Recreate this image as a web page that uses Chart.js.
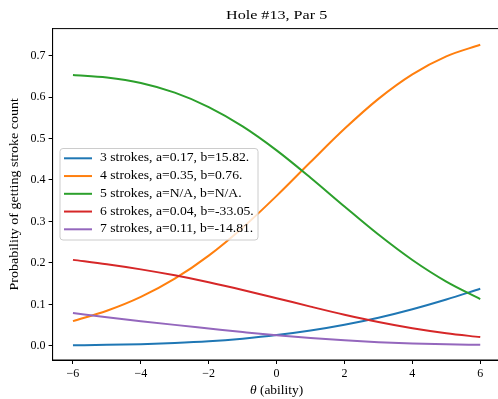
<!DOCTYPE html>
<html>
<head>
<meta charset="utf-8">
<script src="https://cdn.jsdelivr.net/npm/chart.js@4.4.0/dist/chart.umd.min.js"></script>
<style>
    html, body { margin: 0; padding: 0; background: #fff; overflow: hidden; }
    #wrap { width: 504px; height: 399px; }
</style>
</head>
<body>
<div id="wrap"><canvas id="chart" width="504" height="399"></canvas></div>
<script>
// --- Data ---
const thetas = [-6, -5, -4, -3, -2, -1, 0, 1, 2, 3, 4, 5, 6];
const strokes3 = [0.0015, 0.0025, 0.0041, 0.0068, 0.011, 0.0175, 0.026, 0.037, 0.051, 0.068, 0.0885, 0.112, 0.1377];
const strokes4 = [0.0598, 0.0846, 0.118, 0.162, 0.2177, 0.285, 0.3617, 0.4433, 0.5234, 0.5956, 0.6547, 0.698, 0.726];
const strokes5 = [0.653, 0.6469, 0.6337, 0.6105, 0.5759, 0.5293, 0.4715, 0.4055, 0.3361, 0.2684, 0.2071, 0.155, 0.113];
const strokes6 = [0.2074, 0.1968, 0.1845, 0.1701, 0.1535, 0.135, 0.1151, 0.0947, 0.0751, 0.0574, 0.0424, 0.0304, 0.0212];
const strokes7 = [0.0792, 0.0692, 0.0597, 0.0507, 0.0421, 0.0335, 0.0255, 0.019, 0.0135, 0.009, 0.0058, 0.0038, 0.0025];

const seriesLabels = [
    '3 strokes, a=0.17, b=15.82.',
    '4 strokes, a=0.35, b=0.76.',
    '5 strokes, a=N/A, b=N/A.',
    '6 strokes, a=0.04, b=-33.05.',
    '7 strokes, a=0.11, b=-14.81.'
];
const seriesColors = ['#1f77b4', '#ff7f0e', '#2ca02c', '#d62728', '#9467bd'];
const xTicks = [-6, -4, -2, 0, 2, 4, 6];
const yTicks = [0, 0.1, 0.2, 0.3, 0.4, 0.5, 0.6, 0.7];

const titleText = 'Hole #13, Par 5';
const yTitleText = 'Probability of getting stroke count';

const FONT = '"Liberation Serif", "DejaVu Serif", serif';
// Liberation Serif runs narrower than the reference's Computer Modern
const WIDEN = 1.19;

// --- Build datasets ---
const allSeries = [strokes3, strokes4, strokes5, strokes6, strokes7];
const datasets = allSeries.map((vals, i) => ({
    label: seriesLabels[i],
    data: thetas.map((t, j) => ({ x: t, y: vals[j] })),
    borderColor: seriesColors[i],
    backgroundColor: seriesColors[i],
    borderWidth: 2,
    pointRadius: 0,
    fill: false,
    cubicInterpolationMode: 'monotone',
    order: allSeries.length - i
}));

function fmtMinus(v) {
    return v < 0 ? '\u2212' + Math.abs(v) : String(v);
}

// draw text stretched horizontally by WIDEN, anchored at x
function wideText(ctx, text, x, y, align, scale) {
    const s = scale || WIDEN;
    const w = ctx.measureText(text).width * s;
    let left = x;
    if (align === 'center') left = x - w / 2;
    if (align === 'right') left = x - w;
    ctx.save();
    ctx.translate(left, y);
    ctx.scale(s, 1);
    ctx.textAlign = 'left';
    ctx.fillText(text, 0, 0);
    ctx.restore();
    return w;
}

// --- Plugins: frame, titles, legend box ---
const decorations = {
    id: 'decorations',
    afterDraw(chart) {
        const ctx = chart.ctx;
        const a = chart.chartArea;
        ctx.save();

        // axes frame (top + right spines)
        ctx.strokeStyle = '#000';
        ctx.lineWidth = 1;
        ctx.strokeRect(a.left, a.top, a.right - a.left, a.bottom - a.top);

        ctx.fillStyle = '#000';
        ctx.textBaseline = 'middle';

        // title
        ctx.font = '13px ' + FONT;
        wideText(ctx, titleText, (a.left + a.right) / 2, 15.5, 'center', 1.24);

        // y title
        ctx.font = '11.5px ' + FONT;
        ctx.save();
        ctx.translate(15, (a.top + a.bottom) / 2);
        ctx.rotate(-Math.PI / 2);
        wideText(ctx, yTitleText, 0, 0, 'center', 1.22);
        ctx.restore();

        // x title with italic theta
        const rest = ' (ability)';
        ctx.font = 'italic 11.5px ' + FONT;
        const wTheta = ctx.measureText('\u03b8').width * 1.17;
        ctx.font = '11.5px ' + FONT;
        const wRest = ctx.measureText(rest).width * 1.17;
        const x0 = (a.left + a.right) / 2 - (wTheta + wRest) / 2;
        ctx.font = 'italic 11.5px ' + FONT;
        wideText(ctx, '\u03b8', x0, 390.5, 'left', 1.17);
        ctx.font = '11.5px ' + FONT;
        wideText(ctx, rest, x0 + wTheta, 390.5, 'left', 1.17);

        // legend
        const bx = 60, by = 148.5, bw = 198, bh = 91.5, r = 3;
        ctx.beginPath();
        ctx.moveTo(bx + r, by);
        ctx.arcTo(bx + bw, by, bx + bw, by + bh, r);
        ctx.arcTo(bx + bw, by + bh, bx, by + bh, r);
        ctx.arcTo(bx, by + bh, bx, by, r);
        ctx.arcTo(bx, by, bx + bw, by, r);
        ctx.closePath();
        ctx.fillStyle = 'rgba(255,255,255,0.8)';
        ctx.fill();
        ctx.strokeStyle = '#cccccc';
        ctx.lineWidth = 1;
        ctx.stroke();

        ctx.font = '11.5px ' + FONT;
        chart.data.datasets.forEach((ds, i) => {
            const y = 158.3 + i * 17.75;
            ctx.strokeStyle = ds.borderColor;
            ctx.lineWidth = 2;
            ctx.beginPath();
            ctx.moveTo(64, y);
            ctx.lineTo(92, y);
            ctx.stroke();
            ctx.fillStyle = '#000';
            wideText(ctx, ds.label, 100, y, 'left');
        });

        ctx.restore();
    }
};

// --- Chart ---
const ctx = document.getElementById('chart').getContext('2d');
new Chart(ctx, {
    type: 'line',
    data: { datasets: datasets },
    options: {
        responsive: false,
        animation: false,
        devicePixelRatio: 1,
        layout: { padding: { top: 28.6, right: 3.4, left: 0, bottom: 0 } },
        plugins: {
            legend: { display: false },
            tooltip: { enabled: false },
            title: { display: false }
        },
        scales: {
            x: {
                type: 'linear',
                min: -6.6,
                max: 6.6,
                afterBuildTicks: scale => { scale.ticks = xTicks.map(v => ({ value: v })); },
                afterFit: scale => { scale.height = 39; },
                ticks: {
                    callback: v => fmtMinus(v),
                    color: '#000',
                    padding: 3,
                    maxRotation: 0,
                    font: { family: FONT, size: 12 }
                },
                grid: { drawOnChartArea: false, drawTicks: true, tickLength: 4, tickColor: '#000', tickWidth: 1 },
                border: { display: true, color: '#000', width: 1 }
            },
            y: {
                min: -0.034,
                max: 0.765,
                afterBuildTicks: scale => { scale.ticks = yTicks.map(v => ({ value: v })); },
                afterFit: scale => { scale.width = 52.6; },
                ticks: {
                    callback: v => v.toFixed(1),
                    color: '#000',
                    padding: 3,
                    font: { family: FONT, size: 12 }
                },
                grid: { drawOnChartArea: false, drawTicks: true, tickLength: 4, tickColor: '#000', tickWidth: 1 },
                border: { display: true, color: '#000', width: 1 }
            }
        }
    },
    plugins: [decorations]
});
</script>
</body>
</html>
